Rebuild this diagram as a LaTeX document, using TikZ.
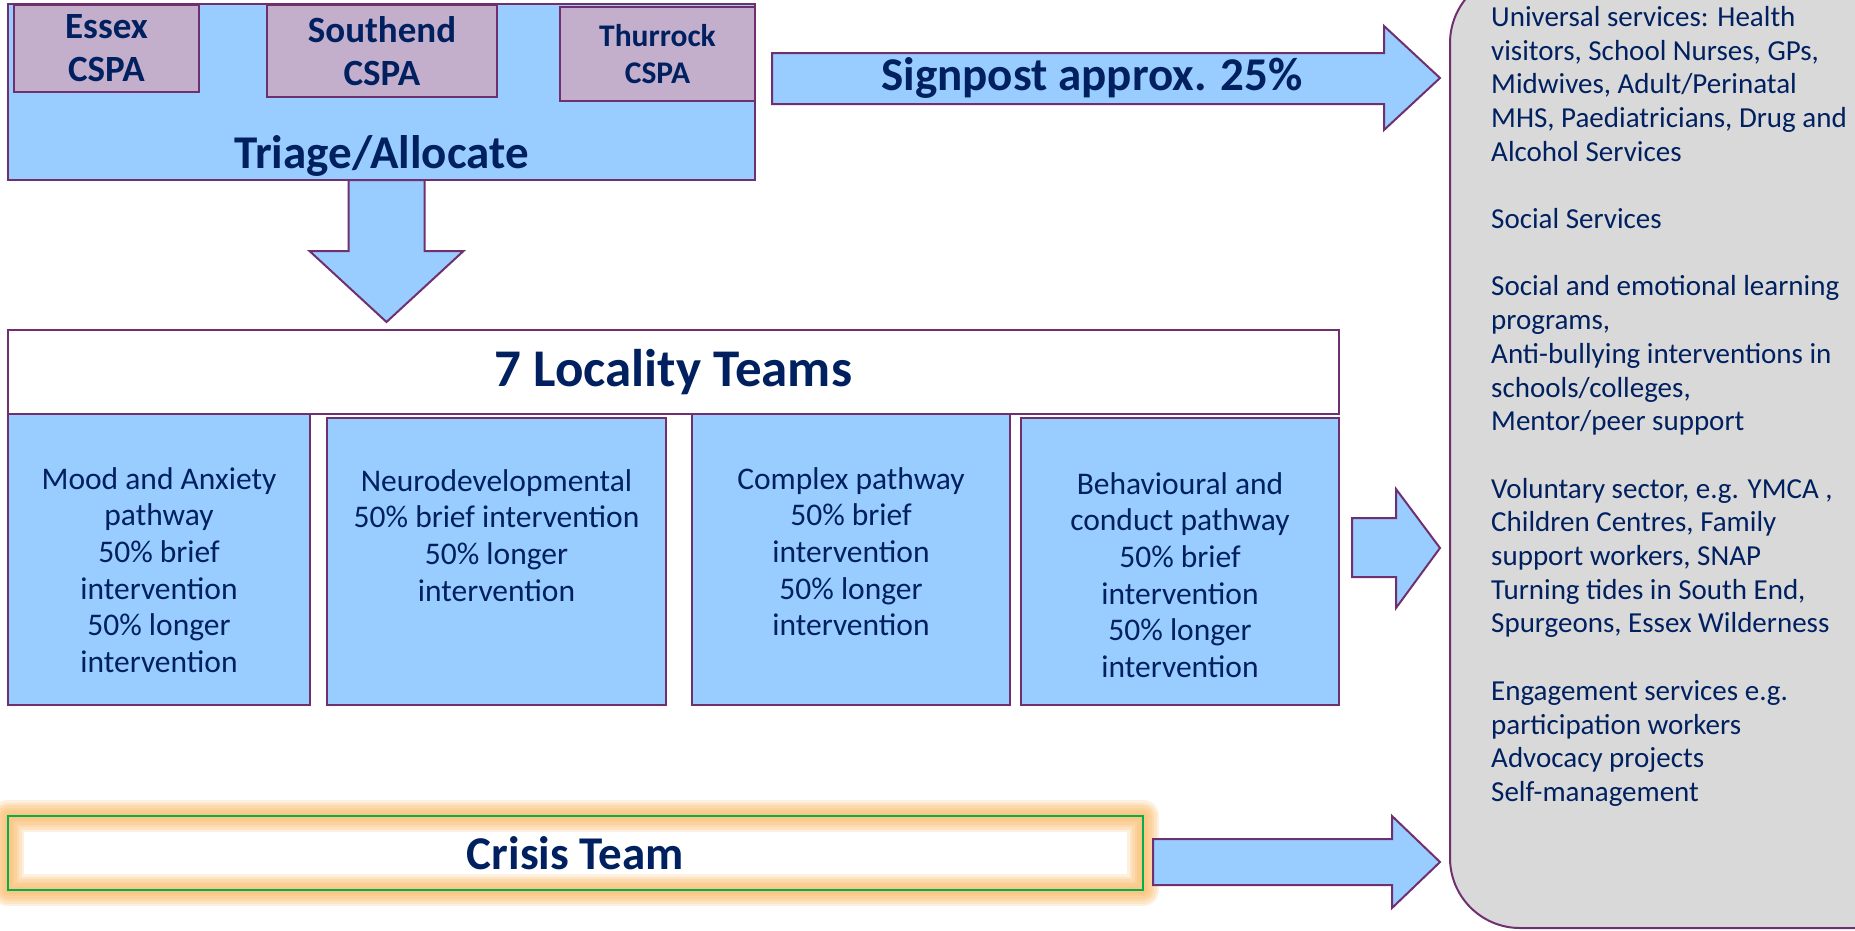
\documentclass[tikz,border=0pt]{standalone}
\usepackage{fontspec}
\setmainfont{Carlito}
\usetikzlibrary{positioning}
\definecolor{navy}{RGB}{0,32,96}
\definecolor{skyblue}{RGB}{153,204,255}
\definecolor{plum}{RGB}{112,48,112}
\definecolor{lilac}{RGB}{195,174,203}
\definecolor{panelgray}{RGB}{217,217,217}
\definecolor{glow}{RGB}{250,180,90}
\definecolor{crisisgreen}{RGB}{0,176,80}

\begin{document}
\begin{tikzpicture}[x=1pt,y=-1pt,
    box/.style={draw=plum, line width=2pt, fill=skyblue, inner sep=0pt, outer sep=0pt,
      anchor=north west, text=navy},
    cspa/.style={box, fill=lilac, align=center, font=\bfseries\fontsize{37}{43}\selectfont},
    title/.style={text=navy, font=\bfseries\fontsize{47}{56}\selectfont},
    pathtxt/.style={text=navy, align=center, inner sep=0pt, font=\fontsize{31.5}{36.7}\selectfont},
    blockarrow/.style={draw=plum, line width=2pt, fill=skyblue, line join=miter}]
    \useasboundingbox (0,0) rectangle (1855,930);
    \node[box, fill=panelgray, rounded corners=70, minimum width=480, minimum height=955] (services) at (1450,-27) {};
    \node[anchor=north west, text=navy, align=left, inner sep=0pt, font=\fontsize{29}{33.7}\selectfont]
      (servicestxt) at (1491,6) {Universal services: Health\\ visitors, School Nurses, GPs,\\ Midwives, Adult/Perinatal\\
      MHS, Paediatricians, Drug and\\ Alcohol Services\\[33.7pt] Social Services\\[33.7pt]
      Social and emotional learning\\ programs,\\ Anti-bullying interventions in\\ schools/colleges,\\
      Mentor/peer support\\[33.7pt] Voluntary sector, e.g. YMCA ,\\ Children Centres, Family\\
      support workers, SNAP\\ Turning tides in South End,\\ Spurgeons, Essex Wilderness\\[33.7pt]
      Engagement services e.g.\\ participation workers\\ Advocacy projects\\ Self-management};

    \node[box, minimum width=747, minimum height=176] (triage) at (8,4) {};
    \node[cspa, minimum width=185, minimum height=87] (essex) at (14,5) {Essex\\CSPA};
    \node[cspa, minimum width=230, minimum height=92] (southend) at (267,5) {Southend\\CSPA};
    \node[cspa, font=\bfseries\fontsize{31.5}{37}\selectfont, minimum width=195, minimum height=94] (thurrock) at (560,7) {Thurrock\\CSPA};
    \node[title, anchor=base] (triagelbl) at ([yshift=12]triage.south) {Triage/Allocate};

    \draw[blockarrow] ([xshift=-33]triage.south) -- ++(0,71) -- ++(-39,0) -- ++(77,71) -- ++(77,-71) -- ++(-39,0) -- ++(0,-71) -- cycle;
    \draw[blockarrow] (772,53) -- (1384,53) -- (1384,26) -- (1440,78) -- (1384,130) -- (1384,104) -- (772,104) -- cycle;
    \node[title] (signpost) at (1092,78) {Signpost approx. 25\%};

    \node[box, fill=white, title, font=\bfseries\fontsize{53}{60}\selectfont, minimum width=1331, minimum height=84] (locality) at (8,330) {7 Locality Teams};
    \node[box, minimum width=302, minimum height=291] (mood) at (8,414) {};
    \node[box, minimum width=339, minimum height=287] (neuro) at (327,418) {};
    \node[box, minimum width=318, minimum height=291] (complex) at (692,414) {};
    \node[box, minimum width=318, minimum height=287] (behav) at (1021,418) {};
    \node[pathtxt, below=53pt of mood.north] (moodtxt) {Mood and Anxiety\\ pathway\\ 50\% brief\\ intervention\\ 50\% longer\\ intervention};
    \node[pathtxt, below=51pt of neuro.north] (neurotxt) {Neurodevelopmental\\ 50\% brief intervention\\ 50\% longer\\ intervention};
    \node[pathtxt, below=53pt of complex.north] (complextxt) {Complex pathway\\ 50\% brief\\ intervention\\ 50\% longer\\ intervention};
    \node[pathtxt, below=54pt of behav.north] (behavtxt) {Behavioural and\\ conduct pathway\\ 50\% brief\\ intervention\\ 50\% longer\\ intervention};
    \draw[blockarrow] (1352,518) -- (1396,518) -- (1396,489) -- (1440,548) -- (1396,608) -- (1396,577) -- (1352,577) -- cycle;

    \node[box, draw=none, fill=white, title, minimum width=1135, minimum height=74] (crisis) at (8,816) {Crisis Team};
    \foreach \w in {32,27,22,17,12,7}
      \draw[glow, line width=\w, opacity=0.2, line join=round] (crisis.north west) rectangle (crisis.south east);
    \draw[crisisgreen, line width=2] (crisis.north west) rectangle (crisis.south east);
    \draw[blockarrow] (1153,839) -- (1392,839) -- (1392,816) -- (1440,862) -- (1392,908) -- (1392,885) -- (1153,885) -- cycle;
\end{tikzpicture}
\end{document}
